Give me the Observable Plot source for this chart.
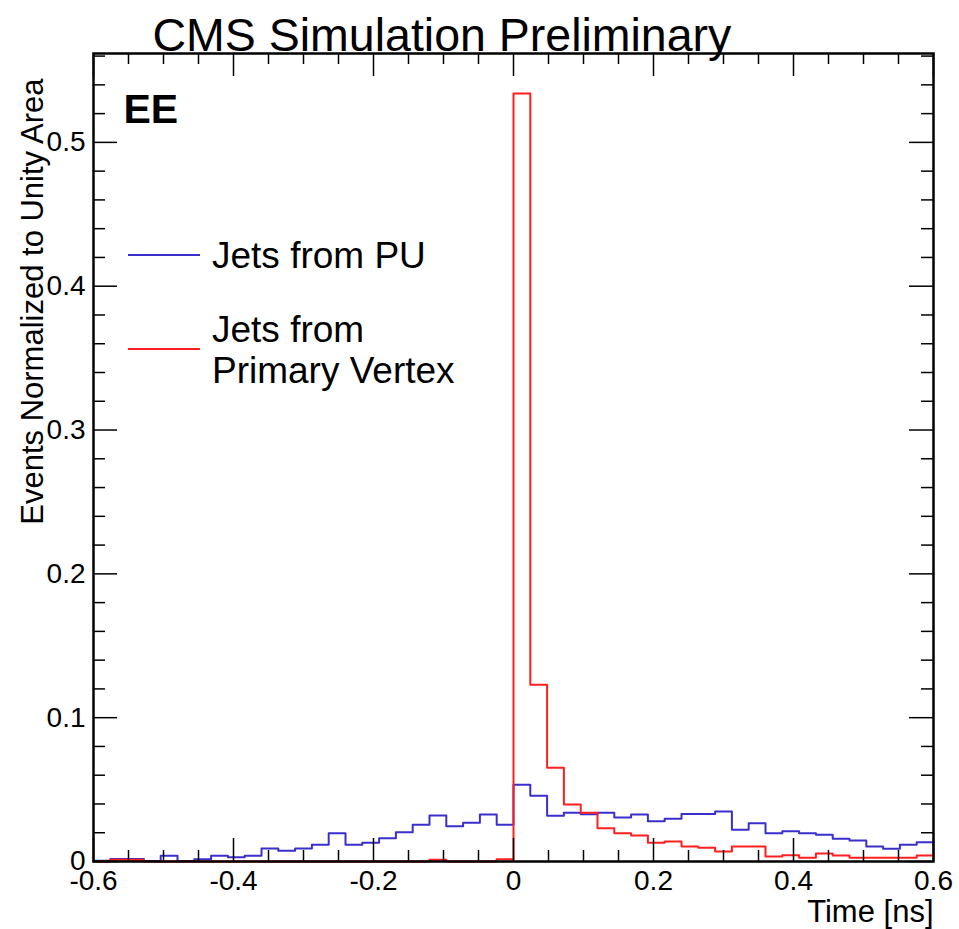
<!DOCTYPE html>
<html><head><meta charset="utf-8">
<script src="https://cdn.jsdelivr.net/npm/d3@7"></script>
<script src="https://cdn.jsdelivr.net/npm/@observablehq/plot@0.6"></script>
<style>
body{margin:0;background:#fff}
#chart{position:relative;width:959px;height:929px}
</style>
</head><body><div id="chart"></div>
<script>
// Histogram binning (50 bins from -0.6 to 0.6 ns)
const binStart = -0.6;
const binWidth = 0.024;

// Jets from PU (blue), per bin
const puValues = [
  0.0005, 0.0018, 0.0018, 0.0003, 0.0040, 0.0003, 0.0016, 0.0040, 0.0030, 0.0040,
  0.0090, 0.0074, 0.0090, 0.0116, 0.0197, 0.0116, 0.0130, 0.0162, 0.0204, 0.0255,
  0.0320, 0.0245, 0.0269, 0.0327, 0.0255, 0.0533, 0.0457, 0.0318, 0.0339, 0.0329,
  0.0339, 0.0306, 0.0327, 0.0280, 0.0297, 0.0330, 0.0330, 0.0348, 0.0220, 0.0266,
  0.0197, 0.0210, 0.0197, 0.0186, 0.0158, 0.0146, 0.0104, 0.0088, 0.0116, 0.0134
];

// Jets from Primary Vertex (red), per bin
const pvValues = [
  0.0000, 0.0012, 0.0012, 0.0000, 0.0000, 0.0000, 0.0000, 0.0000, 0.0000, 0.0000,
  0.0000, 0.0000, 0.0000, 0.0000, 0.0000, 0.0000, 0.0000, 0.0000, 0.0000, 0.0000,
  0.0012, 0.0000, 0.0000, 0.0000, 0.0015, 0.5340, 0.1229, 0.0652, 0.0396, 0.0339,
  0.0232, 0.0197, 0.0180, 0.0130, 0.0139, 0.0104, 0.0095, 0.0070, 0.0104, 0.0104,
  0.0035, 0.0043, 0.0026, 0.0056, 0.0042, 0.0026, 0.0026, 0.0026, 0.0026, 0.0042
];

// Axis ticks
const xDomain = [-0.6, 0.6];
const yDomain = [0, 0.5618];
const xMajorTicks = [-0.6, -0.4, -0.2, 0, 0.2, 0.4, 0.6];
const xMinorTicks = [-0.55, -0.5, -0.45, -0.35, -0.3, -0.25, -0.15, -0.1, -0.05,
  0.05, 0.1, 0.15, 0.25, 0.3, 0.35, 0.45, 0.5, 0.55];
const yMajorTicks = [0, 0.1, 0.2, 0.3, 0.4, 0.5];
const yMinorTicks = [0.02, 0.04, 0.06, 0.08, 0.12, 0.14, 0.16, 0.18, 0.22, 0.24, 0.26, 0.28,
  0.32, 0.34, 0.36, 0.38, 0.42, 0.44, 0.46, 0.48, 0.52, 0.54, 0.56];

// Texts
const titleText = "CMS Simulation Preliminary";
const regionText = "EE";
const xTitle = "Time [ns]";
const yTitle = "Events Normalized to Unity Area";
const seriesNames = ["Jets from PU", "Jets from\nPrimary Vertex"];
const seriesColors = ["#3a2fcc", "#ff1f1f"];

const FONT = "'Liberation Sans', Arial, Helvetica, sans-serif";
const W = 959, H = 929;
const mL = 93, mR = 26, mT = 53, mB = 68;
const frameW = W - mL - mR, frameH = H - mT - mB;

function stepRows(values) {
  const rows = values.map((v, i) => ({x: binStart + i * binWidth, y: v}));
  rows.push({x: binStart + values.length * binWidth, y: values[values.length - 1]});
  return rows;
}
const fmt = d => String(+d.toFixed(2));

const plot = Plot.plot({
  width: W, height: H,
  marginLeft: mL, marginRight: mR, marginTop: mT, marginBottom: mB,
  style: {fontFamily: FONT, background: "#fff", color: "#000"},
  x: {domain: xDomain, axis: null, label: null},
  y: {domain: yDomain, axis: null, label: null},
  marks: [
    Plot.line(stepRows(puValues), {x: "x", y: "y", curve: "step-after", stroke: seriesColors[0], strokeWidth: 2}),
    Plot.line(stepRows(pvValues), {x: "x", y: "y", curve: "step-after", stroke: seriesColors[1], strokeWidth: 2}),
    // ticks (inward, all four sides)
    Plot.tickX(xMajorTicks, {x: d => d, insetTop: frameH - 23, stroke: "#000", strokeWidth: 1.5}),
    Plot.tickX(xMajorTicks, {x: d => d, insetBottom: frameH - 23, stroke: "#000", strokeWidth: 1.5}),
    Plot.tickX(xMinorTicks, {x: d => d, insetTop: frameH - 11, stroke: "#000", strokeWidth: 1.5}),
    Plot.tickX(xMinorTicks, {x: d => d, insetBottom: frameH - 11, stroke: "#000", strokeWidth: 1.5}),
    Plot.tickY(yMajorTicks, {y: d => d, insetRight: frameW - 24, stroke: "#000", strokeWidth: 1.5}),
    Plot.tickY(yMajorTicks, {y: d => d, insetLeft: frameW - 24, stroke: "#000", strokeWidth: 1.5}),
    Plot.tickY(yMinorTicks, {y: d => d, insetRight: frameW - 12, stroke: "#000", strokeWidth: 1.5}),
    Plot.tickY(yMinorTicks, {y: d => d, insetLeft: frameW - 12, stroke: "#000", strokeWidth: 1.5}),
    Plot.frame({stroke: "#000", strokeWidth: 2.5}),
    // tick labels
    Plot.axisX(xMajorTicks, {anchor: "bottom", label: null, tickSize: 0, tickPadding: 9, tickFormat: fmt, fontSize: 28, fill: "#000"}),
    Plot.axisY(yMajorTicks, {anchor: "left", label: null, tickSize: 0, tickPadding: 8, tickFormat: fmt, fontSize: 28, fill: "#000"}),
    // titles
    Plot.text([titleText], {frameAnchor: "top-left", dx: 59, dy: -3, text: d => d, textAnchor: "start", lineAnchor: "bottom", fontSize: 46.5, fill: "#000"}),
    Plot.text([regionText], {frameAnchor: "top-left", dx: 30, dy: 69, text: d => d, textAnchor: "start", lineAnchor: "bottom", fontSize: 41, fontWeight: "bold", fill: "#000"}),
    Plot.text([xTitle], {frameAnchor: "bottom-right", dx: 0, dy: 60, text: d => d, textAnchor: "end", lineAnchor: "bottom", fontSize: 31, fill: "#000"}),
    Plot.text([yTitle], {frameAnchor: "top-left", dx: -51, dy: 25, text: d => d, rotate: -90, textAnchor: "end", lineAnchor: "bottom", fontSize: 31, fill: "#000"})
  ]
});
document.getElementById("chart").appendChild(plot);

// Legend
const svg = d3.select(plot);
const leg = svg.append("g").attr("font-family", FONT).attr("font-size", 37)
  .attr("fill", "#000").attr("text-anchor", "start");
const legendRows = [
  {lineY: 255, lines: seriesNames[0].split("\n"), baselines: [268]},
  {lineY: 349, lines: seriesNames[1].split("\n"), baselines: [342, 383]}
];
legendRows.forEach((r, i) => {
  leg.append("line").attr("x1", 128).attr("x2", 200).attr("y1", r.lineY).attr("y2", r.lineY)
    .attr("stroke", seriesColors[i]).attr("stroke-width", 2);
  r.lines.forEach((t, j) => {
    leg.append("text").attr("x", 212).attr("y", r.baselines[j]).attr("text-anchor", "start").text(t);
  });
});
</script>
</body></html>
